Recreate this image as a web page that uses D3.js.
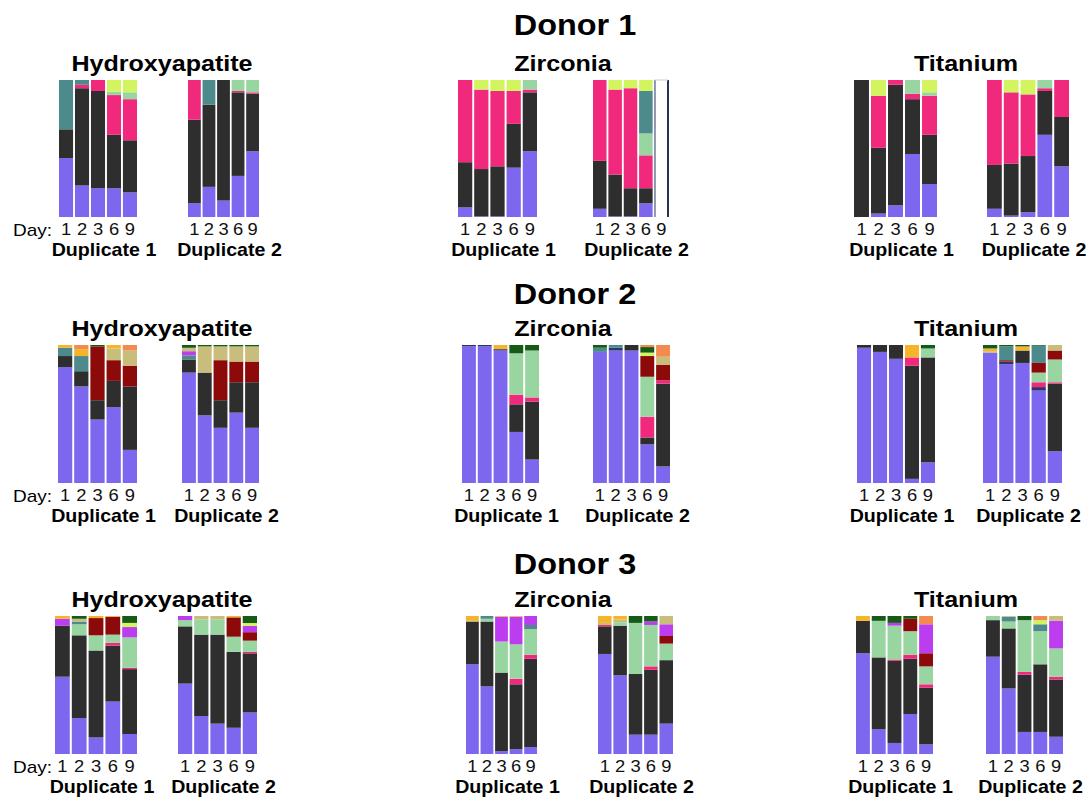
<!DOCTYPE html>
<html>
<head>
<meta charset="utf-8">
<script src="https://cdn.jsdelivr.net/npm/d3@7"></script>
<style>
  body { margin: 0; background: #fff; }
  svg { display: block; }
</style>
</head>
<body>
<svg id="chart" width="1091" height="798"></svg>
<script>
// ---- categories ----
const donors = ["Donor 1", "Donor 2", "Donor 3"];
const materials = ["Hydroxyapatite", "Zirconia", "Titanium"];
const days = ["1", "2", "3", "6", "9"];
const duplicates = ["Duplicate 1", "Duplicate 2"];

// taxa in stacking order (bottom to top) and their fills
const taxa = ["violet", "navy", "charcoal", "rose", "mint", "maroon", "teal",
              "orchid", "khaki", "lime", "amber", "forest", "salmon"];
const taxonColors = ["#7c67ee", "#2e3470", "#2e2e2e", "#f0297d", "#99d5a0", "#8c0a0a", "#4d8a8c",
                     "#bc3cf0", "#c9bd7c", "#d2f55f", "#f6b42a", "#155a15", "#f38a4f"];

// ---- relative abundance (%) per day, [duplicate 1, duplicate 2] ----
const donor1Hydroxyapatite = [
  [ {violet: 43, charcoal: 21, teal: 36},
    {violet: 23, charcoal: 71, rose: 2.5, teal: 3.5},
    {violet: 21, charcoal: 71, rose: 8},
    {violet: 21, charcoal: 39, rose: 29, mint: 2.5, lime: 8.5},
    {violet: 18, charcoal: 38, rose: 30, mint: 5, lime: 9} ],
  [ {violet: 10, charcoal: 61, rose: 29},
    {violet: 22, charcoal: 60, teal: 18},
    {violet: 12, charcoal: 88},
    {violet: 30, charcoal: 61, rose: 1, mint: 8},
    {violet: 48, charcoal: 42, rose: 1, mint: 9} ]
];
const donor1Zirconia = [
  [ {violet: 7, charcoal: 33, rose: 60},
    {violet: 0.5, charcoal: 34.5, rose: 58, lime: 7},
    {violet: 0.5, charcoal: 36.5, rose: 55, lime: 8},
    {violet: 36, charcoal: 32, rose: 24, lime: 8},
    {violet: 48, charcoal: 43, rose: 2, mint: 7} ],
  [ {violet: 6, charcoal: 35, rose: 59},
    {violet: 0.5, charcoal: 30.5, rose: 62, lime: 7},
    {violet: 0.5, charcoal: 20.5, rose: 73, lime: 6},
    {violet: 10, charcoal: 11, rose: 24, mint: 16, teal: 31, lime: 8},
    null ]
];
const donor1Titanium = [
  [ {charcoal: 100},
    {violet: 2.5, charcoal: 48, rose: 38, lime: 11.5},
    {violet: 8.5, charcoal: 88, rose: 3.5},
    {violet: 46, charcoal: 40, rose: 4, mint: 10},
    {violet: 24, charcoal: 36, rose: 28.5, mint: 2.5, lime: 9} ],
  [ {violet: 6, charcoal: 32, rose: 62},
    {violet: 1, charcoal: 38, rose: 52, lime: 9},
    {violet: 3.5, charcoal: 41, rose: 45, lime: 10.5},
    {violet: 60, charcoal: 32, rose: 2, mint: 6},
    {violet: 37, charcoal: 36, rose: 27} ]
];

const donor2Hydroxyapatite = [
  [ {violet: 84, charcoal: 8, teal: 6, amber: 2},
    {violet: 70, charcoal: 11, teal: 11, amber: 5, salmon: 3},
    {violet: 46, charcoal: 14, maroon: 39, forest: 1},
    {violet: 55, charcoal: 19, maroon: 15, khaki: 8.5, amber: 2.5},
    {violet: 24, charcoal: 46, maroon: 15, khaki: 11, salmon: 4} ],
  [ {violet: 80, charcoal: 9.5, teal: 3, orchid: 3, khaki: 2.5, forest: 2},
    {violet: 49, charcoal: 31, khaki: 19, forest: 1},
    {violet: 40, charcoal: 20, maroon: 29, khaki: 10, forest: 1},
    {violet: 51, charcoal: 22, maroon: 15, khaki: 11, forest: 1},
    {violet: 40, charcoal: 33, maroon: 15, khaki: 11, forest: 1} ]
];
const donor2Zirconia = [
  [ {violet: 99, navy: 1},
    {violet: 99, navy: 1},
    {violet: 96, navy: 1, amber: 3},
    {violet: 37, charcoal: 20, rose: 7, mint: 30, forest: 6},
    {violet: 17, charcoal: 42, rose: 3, mint: 34, forest: 4} ],
  [ {violet: 95, teal: 3, forest: 2},
    {violet: 96, navy: 2, teal: 2},
    {violet: 96, charcoal: 4},
    {violet: 28, charcoal: 5, rose: 15, mint: 29, maroon: 15, lime: 2.5, forest: 4, salmon: 1.5},
    {violet: 12, charcoal: 60, rose: 2.5, maroon: 11, khaki: 6, salmon: 8.5} ]
];
const donor2Titanium = [
  [ {violet: 98, charcoal: 2},
    {violet: 95, charcoal: 5},
    {violet: 90, charcoal: 10},
    {violet: 3, charcoal: 82, rose: 6, amber: 9},
    {violet: 15, charcoal: 76, mint: 6.5, forest: 2.5} ],
  [ {violet: 94.5, khaki: 1, amber: 2, forest: 2.5},
    {violet: 86, navy: 2, maroon: 1, teal: 10, forest: 1},
    {violet: 87, charcoal: 9, amber: 3, forest: 1},
    {violet: 67, navy: 2.5, rose: 3.5, mint: 7, maroon: 7, teal: 12.5, forest: 0.5},
    {violet: 23, charcoal: 49, rose: 1, mint: 16.5, maroon: 6.5, khaki: 4} ]
];

const donor3Hydroxyapatite = [
  [ {violet: 56, charcoal: 37, orchid: 5, amber: 2},
    {violet: 26, charcoal: 60, mint: 8, teal: 2, khaki: 2, forest: 2},
    {violet: 12, charcoal: 63, mint: 11, maroon: 12.5, amber: 1.5},
    {violet: 38, charcoal: 40.5, rose: 2, mint: 6, maroon: 13, amber: 0.5},
    {violet: 14.5, charcoal: 47, rose: 1, mint: 22, orchid: 7.5, lime: 3, forest: 5} ],
  [ {violet: 51, charcoal: 41.5, mint: 4.5, orchid: 3},
    {violet: 27.5, charcoal: 59, mint: 11, khaki: 2.5},
    {violet: 22, charcoal: 64.5, mint: 11, khaki: 2.5},
    {violet: 19, charcoal: 55, mint: 11, maroon: 14, amber: 1},
    {violet: 29.5, charcoal: 42, rose: 1, mint: 8, maroon: 6, orchid: 4.5, lime: 2, forest: 5} ]
];
const donor3Zirconia = [
  [ {violet: 65, charcoal: 31, khaki: 0.5, amber: 3.5},
    {violet: 49, charcoal: 47, mint: 2, teal: 2},
    {violet: 2, charcoal: 57, mint: 22.5, orchid: 18, amber: 0.5},
    {violet: 3.5, charcoal: 47, rose: 4, mint: 25, orchid: 20, amber: 0.5},
    {violet: 5, charcoal: 64, rose: 3, mint: 18.5, teal: 3, orchid: 6.5} ],
  [ {violet: 72.5, charcoal: 20, rose: 1, khaki: 1.5, amber: 5},
    {violet: 57, charcoal: 36, mint: 2.5, khaki: 2, amber: 2.5},
    {violet: 14, charcoal: 44, mint: 37, forest: 5},
    {violet: 14, charcoal: 47, rose: 2.5, mint: 30, orchid: 2.5, forest: 4},
    {violet: 22, charcoal: 46, mint: 12, maroon: 5.5, orchid: 8.5, khaki: 6} ]
];
const donor3Titanium = [
  [ {violet: 73, charcoal: 23.5, amber: 3.5},
    {violet: 18, charcoal: 52, mint: 26.5, forest: 3.5},
    {violet: 8, charcoal: 59.5, rose: 1, mint: 24.5, orchid: 2, forest: 5},
    {violet: 29, charcoal: 40, rose: 3, mint: 17, maroon: 9, forest: 2},
    {violet: 7, charcoal: 41, rose: 2.5, mint: 13, maroon: 9.5, orchid: 21, salmon: 6} ],
  [ {violet: 70.5, charcoal: 26.5, mint: 3},
    {violet: 47.5, charcoal: 43.5, mint: 5, teal: 3.5, khaki: 0.5},
    {violet: 16, charcoal: 41.5, rose: 2, mint: 37.5, forest: 3},
    {violet: 16, charcoal: 49, mint: 24, teal: 5, lime: 3, salmon: 3},
    {violet: 12.5, charcoal: 41.5, rose: 2, mint: 20.5, orchid: 20, khaki: 3.5} ]
];

const panels = [
  [donor1Hydroxyapatite, donor1Zirconia, donor1Titanium],
  [donor2Hydroxyapatite, donor2Zirconia, donor2Titanium],
  [donor3Hydroxyapatite, donor3Zirconia, donor3Titanium]
];

// ---- layout ----
const FONT = "'Liberation Sans', Arial, Helvetica, sans-serif";
const rowTop = [80, 345, 616];
const rowBottom = [217, 483, 754];
const donorTitleY = [35, 304, 574];
// horizontal extent of each duplicate's bar group, per donor row and material column
const groupX = [
  [ [[59, 137], [188, 259]], [[458, 537], [593, 668]], [[854, 937], [987, 1069]] ],
  [ [[58, 137], [182, 259]], [[462, 539], [593, 670]], [[857, 935], [983, 1062]] ],
  [ [[55, 137], [178, 257]], [[466, 537], [598, 673]], [[856, 933], [986, 1063]] ]
];
const titleX = [162, 563, 966];

const colorOf = d3.scaleOrdinal().domain(taxa).range(taxonColors);
const stack = d3.stack()
  .keys(taxa)
  .value((d, k) => d[k] || 0)
  .offset(d3.stackOffsetExpand);

const svg = d3.select("#chart");

function label(g, text, x, y, size, weight, sx, anchor) {
  return g.append("text")
    .attr("transform", `translate(${x},${y}) scale(${sx},1)`)
    .attr("text-anchor", anchor || "middle")
    .style("font-family", FONT)
    .style("font-size", size + "px")
    .style("font-weight", weight)
    .attr("fill", "#000")
    .text(text);
}

donors.forEach((donor, r) => {
  const row = svg.append("g").attr("class", "donor");
  label(row, donor, 575, donorTitleY[r], 30, "bold", 1.08);

  const y = d3.scaleLinear().domain([0, 1]).range([rowBottom[r], rowTop[r]]);

  materials.forEach((material, c) => {
    const panel = row.append("g").attr("class", "panel");
    label(panel, material, titleX[c], rowTop[r] - 9, 22, "bold", 1.14);

    duplicates.forEach((dup, d) => {
      const bars = panels[r][c][d];
      const [x0, x1] = groupX[r][c][d];
      const x = d3.scaleBand().domain(days).range([x0, x1]).paddingInner(0.12);
      const series = stack(bars.map(b => b || {}));

      const g = panel.append("g");
      g.selectAll("g.layer")
        .data(series)
        .join("g")
        .attr("class", "layer")
        .attr("fill", s => colorOf(s.key))
        .selectAll("rect")
        .data(s => s.map((p, j) => ({p, day: days[j], empty: !bars[j]})))
        .join("rect")
        .filter(e => !e.empty && e.p[1] - e.p[0] > 0)
        .attr("x", e => x(e.day))
        .attr("y", e => y(e.p[1]))
        .attr("width", x.bandwidth())
        .attr("height", e => y(e.p[0]) - y(e.p[1]));
      g.selectAll("rect").filter(e => e.empty || e.p[1] - e.p[0] <= 0).remove();

      // sample without reads: outlined empty column
      bars.forEach((b, j) => {
        if (b) return;
        const bx = x(days[j]);
        g.append("line").attr("x1", bx + 0.5).attr("x2", bx + 0.5)
          .attr("y1", y(1)).attr("y2", y(0)).attr("stroke", "#6b7896").attr("stroke-width", 1.5);
        g.append("line").attr("x1", bx + x.bandwidth()).attr("x2", bx + x.bandwidth())
          .attr("y1", y(1)).attr("y2", y(0)).attr("stroke", "#283352").attr("stroke-width", 2);
        g.append("line").attr("x1", bx).attr("x2", bx + x.bandwidth())
          .attr("y1", y(1)).attr("y2", y(1)).attr("stroke", "#c8ccd6").attr("stroke-width", 1);
      });

      // day axis
      const axis = g.append("g")
        .attr("transform", `translate(0,${rowBottom[r]})`)
        .call(d3.axisBottom(x).tickSize(0).tickPadding(6));
      axis.select(".domain").remove();
      axis.selectAll("text")
        .style("font-family", FONT)
        .style("font-size", "17px")
        .attr("fill", "#111")
        .attr("transform", "scale(1.08,1)");

      label(g, dup, (x0 + x1) / 2 + 6, rowBottom[r] + 38.5, 18, "bold", 1.09);

      if (c === 0 && d === 0) {
        label(g, "Day:", 13, rowBottom[r] + 18.5, 17, "normal", 1.12, "start");
      }
    });
  });
});
</script>
</body>
</html>
